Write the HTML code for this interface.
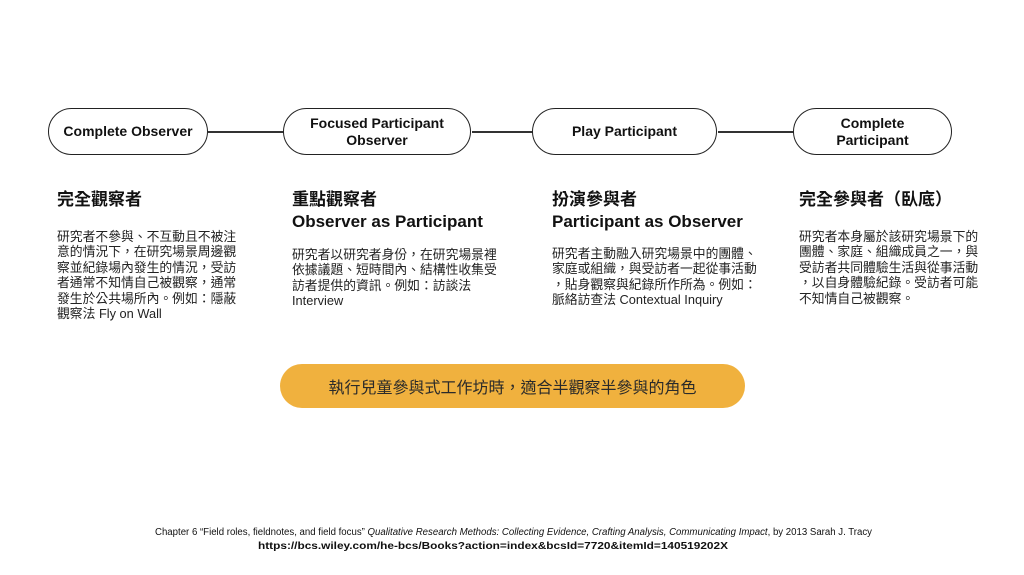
<!DOCTYPE html>
<html><head><meta charset="utf-8"><style>
body{margin:0;width:1024px;height:575px;background:#fff;position:relative;overflow:hidden;font-family:"Liberation Sans","Noto Sans CJK TC",sans-serif;color:#111}
.pill{position:absolute;top:108px;height:45px;border:1.5px solid #222;border-radius:24px;display:flex;align-items:center;justify-content:center;text-align:center;font-weight:bold;font-size:14px;line-height:17px;background:#fff}
.line{position:absolute;top:131px;height:1.5px;background:#333}
.h{position:absolute;font-weight:bold;font-size:17px;line-height:22px;white-space:nowrap}
.b{position:absolute;font-size:12.8px;line-height:15.4px;white-space:nowrap;color:#222}
</style></head><body>
<div class="line" style="left:208px;width:76px"></div>
<div class="line" style="left:472px;width:61px"></div>
<div class="line" style="left:718px;width:76px"></div>
<div class="pill" style="left:48px;width:158px">Complete Observer</div>
<div class="pill" style="left:283px;width:186px">Focused Participant<br>Observer</div>
<div class="pill" style="left:532px;width:183px">Play Participant</div>
<div class="pill" style="left:793px;width:157px">Complete<br>Participant</div>

<div class="h" style="left:57px;top:189px">完全觀察者</div>
<div class="b" style="left:57px;top:229px">研究者不參與、不互動且不被注<br>意的情況下，在研究場景周邊觀<br>察並紀錄場內發生的情況，受訪<br>者通常不知情自己被觀察，通常<br>發生於公共場所內。例如：隱蔽<br>觀察法 Fly on Wall</div>

<div class="h" style="left:292px;top:189px">重點觀察者<br>Observer as Participant</div>
<div class="b" style="left:292px;top:247px">研究者以研究者身份，在研究場景裡<br>依據議題、短時間內、結構性收集受<br>訪者提供的資訊。例如：訪談法<br>Interview</div>

<div class="h" style="left:552px;top:189px">扮演參與者<br>Participant as Observer</div>
<div class="b" style="left:552px;top:246px">研究者主動融入研究場景中的團體、<br>家庭或組織，與受訪者一起從事活動<br>，貼身觀察與紀錄所作所為。例如：<br>脈絡訪查法 Contextual Inquiry</div>

<div class="h" style="left:799px;top:189px">完全參與者（臥底）</div>
<div class="b" style="left:799px;top:229px">研究者本身屬於該研究場景下的<br>團體、家庭、組織成員之一，與<br>受訪者共同體驗生活與從事活動<br>，以自身體驗紀錄。受訪者可能<br>不知情自己被觀察。</div>

<div style="position:absolute;left:280px;top:364px;width:465px;height:44px;border-radius:22px;background:#f0b13e;display:flex;align-items:center;justify-content:center;font-size:16px;color:#2a2a2a">執行兒童參與式工作坊時，適合半觀察半參與的角色</div>

<svg style="position:absolute;left:0;top:0" width="1024" height="575">
<text x="155" y="535" font-family="Liberation Sans Narrow, Liberation Sans, sans-serif" font-size="10" fill="#111" textLength="717" lengthAdjust="spacingAndGlyphs">Chapter 6 “Field roles, fieldnotes, and field focus” <tspan font-style="italic">Qualitative Research Methods: Collecting Evidence, Crafting Analysis, Communicating Impact</tspan>, by 2013 Sarah J. Tracy</text>
<text x="258" y="549" font-family="Liberation Sans, sans-serif" font-size="10" font-weight="bold" fill="#111" textLength="470" lengthAdjust="spacingAndGlyphs">https://bcs.wiley.com/he-bcs/Books?action=index&amp;bcsId=7720&amp;itemId=140519202X</text>
</svg>
</body></html>
